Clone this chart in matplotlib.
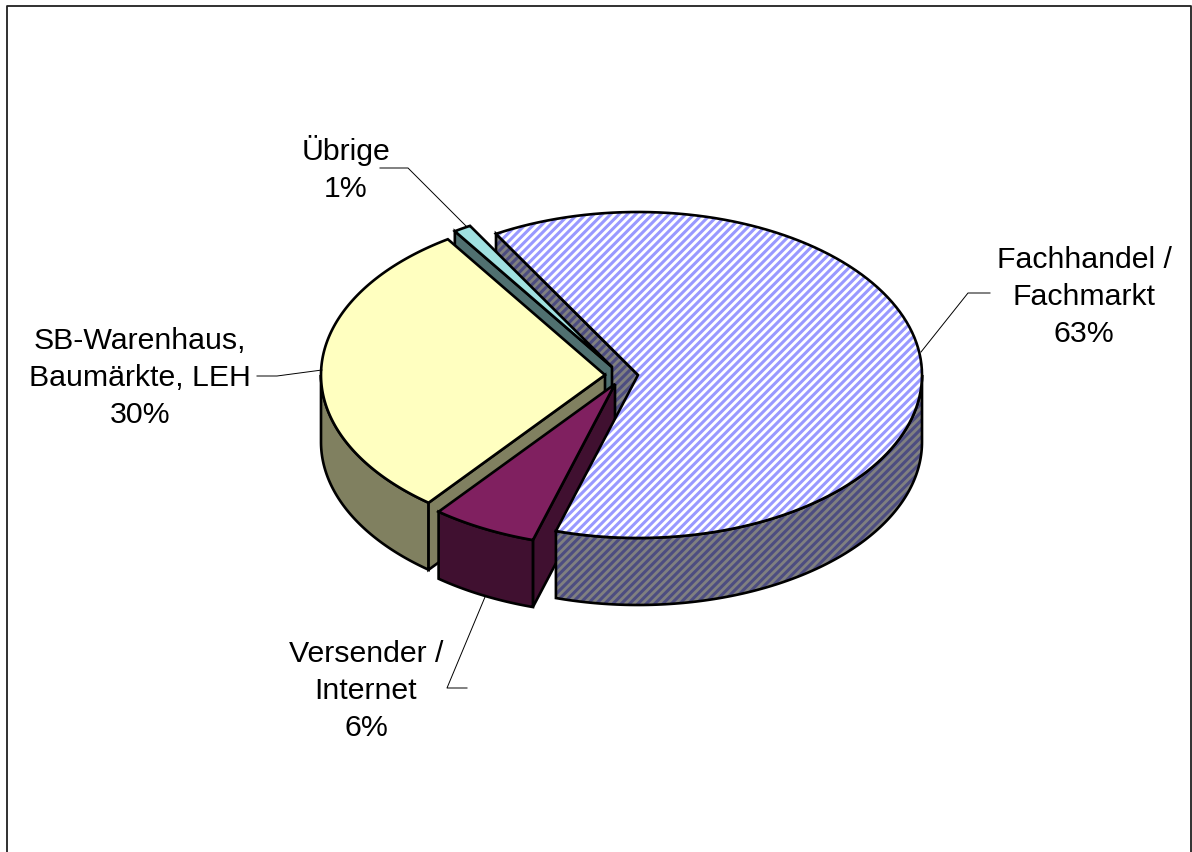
import numpy as np
import matplotlib
matplotlib.use("Agg")
from matplotlib import pyplot as plt
from matplotlib.patches import Polygon

categories = ["Fachhandel /\nFachmarkt", "Versender /\nInternet", "SB-Warenhaus,\nBaumärkte, LEH", "Übrige"]
values = [63, 6, 30, 1]

plt.rcParams['font.family'] = ['Liberation Sans', 'DejaVu Sans']
plt.rcParams['hatch.linewidth'] = 2.2

# pie geometry in pixels
cx, cy, rx, ry = 638, 375, 284, 163
depth = 67
start_angle = 120
offsets = [(0, 0), (-23, 9), (-33, 0), (-26, -8)]
LW = 1.9
STRIPES = '////'

fig = plt.figure(figsize=(11.92, 8.52), dpi=100)
ax = fig.add_axes([0, 0, 1, 1])
ax.set_xlim(0, 1192)
ax.set_ylim(852, 0)
ax.axis('off')

# slice angles, clockwise from the start angle
spans = [v / sum(values) * 360 for v in values]
ends = start_angle - np.cumsum(spans)
starts = ends + np.array(spans)


def arc(i, t1, t2):
    t = np.radians(np.linspace(t1, t2, 120))
    dx, dy = offsets[i]
    return np.column_stack([cx + dx + rx * np.cos(t), cy + dy - ry * np.sin(t)])


def apex(i):
    return np.array([[cx + offsets[i][0], cy + offsets[i][1]]])


def shape(pts, color, hatch=None, hatch_color=None):
    if hatch:
        ax.add_patch(Polygon(pts, closed=True, facecolor=color, edgecolor=hatch_color, hatch=hatch, linewidth=0))
        ax.add_patch(Polygon(pts, closed=True, fill=False, edgecolor='black', linewidth=LW, joinstyle='miter'))
    else:
        ax.add_patch(Polygon(pts, closed=True, facecolor=color, edgecolor='black', linewidth=LW, joinstyle='miter'))


def top(i, color, **kw):
    shape(np.vstack([apex(i), arc(i, starts[i], ends[i])]), color, **kw)


def side(i, t1, t2, color, **kw):
    a = arc(i, t1, t2)
    shape(np.vstack([a, (a + [0, depth])[::-1]]), color, **kw)


def wall(i, t, color, **kw):
    p = apex(i)
    e = arc(i, t, t)[:1]
    shape(np.vstack([p, e, e + [0, depth], p + [0, depth]]), color, **kw)


# back to front
BLUE, VERS, SB, REST = 0, 1, 2, 3
wall(BLUE, starts[BLUE], '#808080', hatch=STRIPES, hatch_color='#4d4d80')

wall(REST, starts[REST], '#507070')
top(REST, '#a0e0e0')

side(SB, -180, starts[SB], '#808060')
wall(SB, starts[SB], '#808060')
top(SB, '#ffffc0')

wall(VERS, starts[VERS], '#401030')

side(BLUE, ends[BLUE], 0, '#808080', hatch=STRIPES, hatch_color='#4d4d80')
top(BLUE, 'white', hatch=STRIPES, hatch_color='#9999ff')

side(VERS, ends[VERS], starts[VERS], '#401030')
top(VERS, '#802060')

# labels and leader lines
label_pos = [(1084, 297), (366, 691), (140, 378), (346, 169)]
leaders = [
    [(990, 293), (968, 293), (921, 352)],
    [(467, 688), (447, 688), (485, 597)],
    [(257, 376), (277, 376), (322, 370)],
    [(380, 168), (408, 168), (466, 226)],
]
for name, val, pos, line in zip(categories, values, label_pos, leaders):
    ax.text(pos[0], pos[1], f"{name}\n{val}%", ha='center', va='center', fontsize=21.8,
            linespacing=1.42, color='black')
    xs, ys = zip(*line)
    ax.plot(xs, ys, color='black', linewidth=0.7)

# chart area border, runs off the bottom
ax.plot([6.5, 6.5, 1190.5, 1190.5], [860, 6, 6, 860], color='#202020', linewidth=1.3, clip_on=False)

fig.savefig("out.png", dpi=100)
